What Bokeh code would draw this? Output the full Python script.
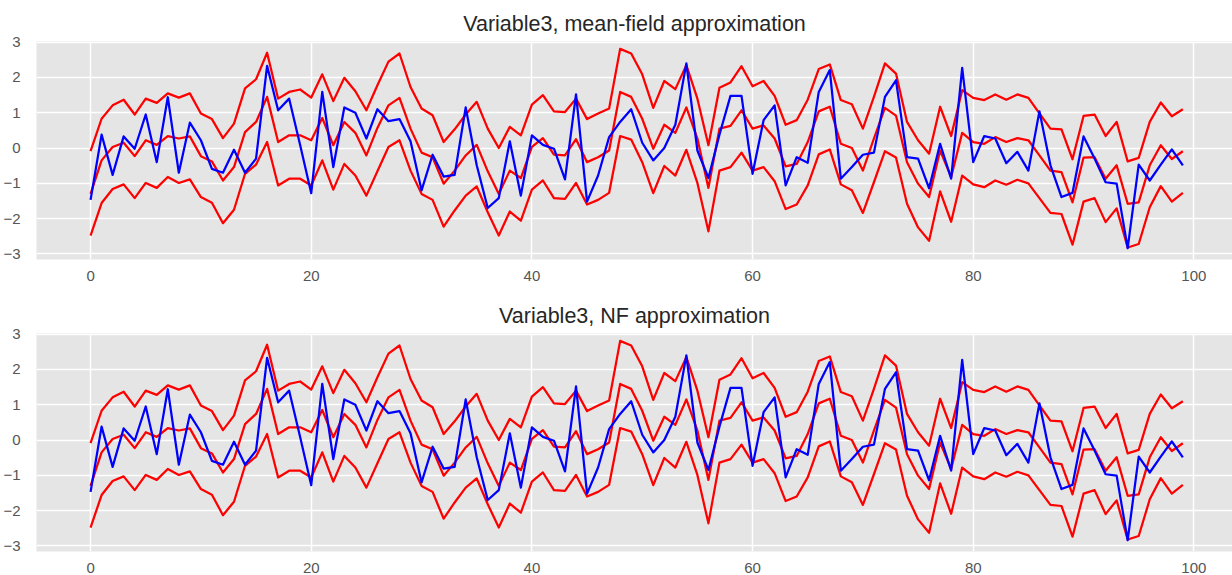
from bokeh.plotting import figure
from bokeh.layouts import column
from bokeh.models import FixedTicker, Range1d
from bokeh.embed import file_html
from bokeh.resources import INLINE

# ---- data ----
x_index = list(range(100))

observed = [
    -1.47, 0.38, -0.76, 0.33, -0.02, 0.95, -0.40, 1.44, -0.70, 0.72,
    0.22, -0.59, -0.70, -0.05, -0.70, -0.30, 2.33, 1.07, 1.40, 0.08,
    -1.28, 1.59, -0.54, 1.15, 1.00, 0.27, 1.10, 0.76, 0.82, 0.19,
    -1.20, -0.19, -0.81, -0.76, 1.15, -0.49, -1.70, -1.42, 0.19, -1.35,
    0.36, 0.09, -0.02, -0.89, 1.52, -1.52, -0.78, 0.31, 0.74, 1.10,
    0.15, -0.35, 0.00, 0.66, 2.40, -0.07, -0.85, 0.38, 1.48, 1.48,
    -0.73, 0.79, 1.21, -1.06, -0.26, -0.42, 1.59, 2.21, -0.87, -0.54,
    -0.19, -0.13, 1.45, 1.92, -0.26, -0.30, -1.14, 0.12, -0.87, 2.27,
    -0.40, 0.34, 0.27, -0.43, -0.11, -0.64, 1.04, -0.49, -1.39, -1.27,
    0.33, -0.30, -0.97, -1.01, -2.84, -0.47, -0.92, -0.47, -0.04, -0.49,
]

mf_mean = [
    -1.30, -0.35, 0.03, 0.15, -0.23, 0.22, 0.09, 0.34, 0.27, 0.33,
    -0.23, -0.38, -0.92, -0.54, 0.45, 0.74, 1.45, 0.17, 0.36, 0.36,
    0.22, 0.85, 0.08, 0.74, 0.43, -0.21, 0.57, 1.21, 1.42, 0.55,
    -0.13, -0.26, -1.01, -0.64, -0.21, 0.09, -0.66, -1.30, -0.64, -0.85,
    0.03, 0.28, -0.19, -0.21, 0.25, -0.40, -0.26, -0.07, 1.59, 1.45,
    0.83, -0.02, 0.66, 0.43, 1.15, 0.27, -1.13, 0.55, 0.63, 1.07,
    0.55, 0.64, 0.27, -0.52, -0.45, 0.17, 1.04, 1.17, 0.12, 0.00,
    -0.64, 0.27, 1.14, 0.92, -0.40, -1.01, -1.39, -0.07, -0.82, 0.43,
    0.17, 0.12, 0.31, 0.17, 0.28, 0.22, -0.21, -0.64, -0.68, -1.54,
    -0.27, -0.26, -0.87, -0.49, -1.58, -1.54, -0.49, 0.08, -0.31, -0.09,
]

mf_upper = [
    -0.09, 0.83, 1.21, 1.37, 0.95, 1.40, 1.28, 1.55, 1.43, 1.55,
    0.98, 0.82, 0.28, 0.69, 1.69, 1.95, 2.70, 1.40, 1.59, 1.66,
    1.43, 2.09, 1.33, 1.99, 1.61, 1.07, 1.78, 2.45, 2.68, 1.73,
    1.12, 0.93, 0.17, 0.53, 0.95, 1.31, 0.55, 0.00, 0.60, 0.36,
    1.23, 1.50, 1.04, 1.02, 1.40, 0.82, 0.98, 1.12, 2.81, 2.68,
    2.09, 1.14, 1.90, 1.67, 2.35, 1.40, 0.08, 1.71, 1.86, 2.32,
    1.75, 1.90, 1.48, 0.66, 0.79, 1.37, 2.24, 2.37, 1.36, 1.24,
    0.55, 1.45, 2.40, 2.11, 0.74, 0.22, -0.16, 1.17, 0.34, 1.64,
    1.42, 1.36, 1.52, 1.37, 1.52, 1.42, 0.98, 0.55, 0.53, -0.32,
    0.91, 0.95, 0.34, 0.74, -0.38, -0.28, 0.74, 1.29, 0.90, 1.10,
]

mf_lower = [
    -2.48, -1.56, -1.16, -1.03, -1.42, -0.99, -1.13, -0.82, -0.99, -0.89,
    -1.39, -1.55, -2.13, -1.75, -0.73, -0.47, 0.17, -1.06, -0.87, -0.87,
    -1.06, -0.35, -1.18, -0.45, -0.78, -1.35, -0.66, 0.03, 0.22, -0.64,
    -1.30, -1.47, -2.23, -1.77, -1.35, -1.09, -1.82, -2.48, -1.80, -2.06,
    -1.18, -0.92, -1.42, -1.44, -0.99, -1.60, -1.47, -1.27, 0.34, 0.24,
    -0.40, -1.28, -0.51, -0.78, -0.05, -0.99, -2.36, -0.64, -0.54, -0.13,
    -0.64, -0.54, -0.94, -1.73, -1.60, -1.06, -0.18, -0.04, -1.03, -1.20,
    -1.84, -0.97, -0.09, -0.27, -1.58, -2.25, -2.63, -1.23, -2.09, -0.78,
    -1.03, -1.11, -0.92, -1.04, -0.90, -1.00, -1.42, -1.84, -1.87, -2.74,
    -1.52, -1.42, -2.10, -1.71, -2.82, -2.72, -1.68, -1.08, -1.52, -1.27,
]

# NF approximation panel (visually identical to the mean-field one)
nf_mean = list(mf_mean)
nf_upper = list(mf_upper)
nf_lower = list(mf_lower)

x_ticks = [0, 20, 40, 60, 80, 100]
y_ticks = [-3, -2, -1, 0, 1, 2, 3]
y_tick_labels = {t: (("\u2212" + str(-t)) if t < 0 else str(t)) for t in y_ticks}

titles = ["Variable3, mean-field approximation", "Variable3, NF approximation"]

FONT = "Liberation Sans"


def make_panel(title, obs, mean, upper, lower, height, top, bottom):
    p = figure(
        width=1232, height=height, output_backend="svg", toolbar_location=None,
        x_range=Range1d(-4.9, 103.5), y_range=Range1d(-3.16, 3.02),
        min_border_left=36, min_border_right=0,
        min_border_top=top, min_border_bottom=bottom,
        background_fill_color="#E5E5E5", border_fill_color="white",
        outline_line_color=None, title=title,
    )
    p.title.align = "center"
    p.title.text_font = FONT
    p.title.text_font_size = "21.5px"
    p.title.text_font_style = "normal"
    p.title.text_color = "#262626"
    p.title.standoff = 11

    for ax in (p.xaxis, p.yaxis):
        ax.axis_line_color = None
        ax.major_tick_line_color = None
        ax.minor_tick_line_color = None
        ax.major_label_text_font = FONT
        ax.major_label_text_font_size = "15px"
        ax.major_label_text_color = "#555555"
    p.xaxis.ticker = FixedTicker(ticks=x_ticks)
    p.yaxis.ticker = FixedTicker(ticks=y_ticks)
    p.yaxis.major_label_overrides = y_tick_labels
    p.xaxis.major_label_standoff = 5
    p.yaxis.major_label_standoff = 10

    for g in (p.xgrid, p.ygrid):
        g.grid_line_color = "white"
        g.grid_line_width = 1.5

    for arr in (upper, mean, lower):
        p.line(x_index, arr, line_color="#FF0000", line_width=2.25, line_join="round")
    p.line(x_index, obs, line_color="#0000FF", line_width=2.25, line_join="round")
    return p


p1 = make_panel(titles[0], observed, mf_mean, mf_upper, mf_lower, 295, 41, 36)
p2 = make_panel(titles[1], observed, nf_mean, nf_upper, nf_lower, 280, 38, 24)

layout = column(p1, p2, spacing=0)
open("out.html", "w").write(file_html(layout, INLINE))
